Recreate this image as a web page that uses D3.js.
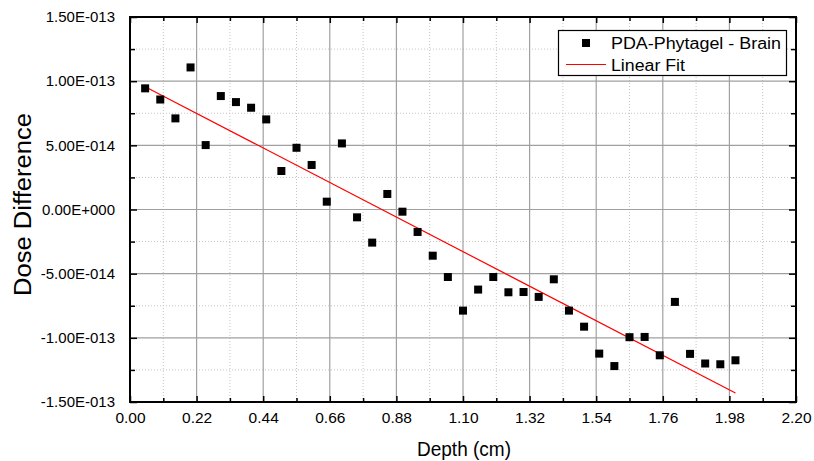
<!DOCTYPE html>
<html><head><meta charset="utf-8">
<script src="https://cdn.jsdelivr.net/npm/d3@7"></script>
<style>html,body{margin:0;padding:0;background:#fff;}svg{display:block;font-family:"Liberation Sans",Arial,sans-serif;}</style>
</head><body>
<svg id="c" width="814" height="461"></svg>
<script>
// ---- data ----
const depth = [0.05,0.10,0.15,0.20,0.25,0.30,0.35,0.40,0.45,0.50,0.55,0.60,0.65,0.70,0.75,0.80,0.85,0.90,0.95,1.00,
               1.05,1.10,1.15,1.20,1.25,1.30,1.35,1.40,1.45,1.50,1.55,1.60,1.65,1.70,1.75,1.80,1.85,1.90,1.95,2.00];
const doseDiff = [9.44e-14,8.57e-14,7.10e-14,11.07e-14,5.02e-14,8.84e-14,8.37e-14,7.93e-14,7.02e-14,3.00e-14,
                  4.81e-14,3.47e-14,0.61e-14,5.15e-14,-0.61e-14,-2.58e-14,1.21e-14,-0.17e-14,-1.75e-14,-3.60e-14,
                  -5.26e-14,-7.88e-14,-6.24e-14,-5.26e-14,-6.45e-14,-6.43e-14,-6.81e-14,-5.44e-14,-7.88e-14,-9.13e-14,
                  -11.23e-14,-12.20e-14,-9.95e-14,-9.93e-14,-11.36e-14,-7.20e-14,-11.25e-14,-12.00e-14,-12.06e-14,-11.75e-14];
const fitIntercept = 10.18e-14;
const fitSlope = -12.24e-14;
const fitRange = [0.05, 2.00];
const xTicks = [0.00,0.22,0.44,0.66,0.88,1.10,1.32,1.54,1.76,1.98,2.20];
const xMinor = [0.11,0.33,0.55,0.77,0.99,1.21,1.43,1.65,1.87,2.09];
const yTicks = [-1.5e-13,-1.0e-13,-5.0e-14,0,5.0e-14,1.0e-13,1.5e-13];
const yMinor = [-1.25e-13,-7.5e-14,-2.5e-14,2.5e-14,7.5e-14,1.25e-13];
const seriesName = "PDA-Phytagel - Brain";
const fitName = "Linear Fit";
const xTitle = "Depth (cm)";
const yTitle = "Dose Difference";

// ---- layout ----
const L=130, R=796, T=17, B=402;
const svg = d3.select("#c");
const x = d3.scaleLinear().domain([0,2.2]).range([L,R]);
const y = d3.scaleLinear().domain([-1.5e-13,1.5e-13]).range([B,T]);

function sci(v){
  if (Math.abs(v) < 1e-20) return "0.00E+000";
  let e = Math.floor(Math.log10(Math.abs(v)) + 1e-9);
  let m = v/Math.pow(10,e);
  const es = (e<0?"-":"+") + String(Math.abs(e)).padStart(3,"0");
  return m.toFixed(2) + "E" + es;
}

// grid minor
const g = svg.append("g");
g.selectAll(".xm").data(xMinor).join("line")
  .attr("x1",d=>x(d)).attr("x2",d=>x(d)).attr("y1",T).attr("y2",B)
  .attr("stroke","#c4c4c4").attr("stroke-dasharray","1,2").attr("stroke-width",1);
g.selectAll(".ym").data(yMinor).join("line")
  .attr("x1",L).attr("x2",R).attr("y1",d=>y(d)).attr("y2",d=>y(d))
  .attr("stroke","#c4c4c4").attr("stroke-dasharray","1,2").attr("stroke-width",1);
// grid major
g.selectAll(".xM").data(xTicks.slice(1,-1)).join("line")
  .attr("x1",d=>x(d)).attr("x2",d=>x(d)).attr("y1",T).attr("y2",B)
  .attr("stroke","#a0a0a0").attr("stroke-width",1.2);
g.selectAll(".yM").data(yTicks.slice(1,-1)).join("line")
  .attr("x1",L).attr("x2",R).attr("y1",d=>y(d)).attr("y2",d=>y(d))
  .attr("stroke","#a0a0a0").attr("stroke-width",1.2);

// fit line
svg.append("line")
  .attr("x1",x(fitRange[0])).attr("y1",y(fitIntercept+fitSlope*fitRange[0]))
  .attr("x2",x(fitRange[1])).attr("y2",y(fitIntercept+fitSlope*fitRange[1]))
  .attr("stroke","#ff0000").attr("stroke-width",1.2);

// points
const ms = 8;
svg.append("g").selectAll("rect").data(depth.map((d,i)=>[d,doseDiff[i]])).join("rect")
  .attr("x",d=>x(d[0])-ms/2).attr("y",d=>y(d[1])-ms/2).attr("width",ms).attr("height",ms)
  .attr("fill","#000");

// axes (inward ticks on all sides)
function axisBuild(gen, tr){
  const a = svg.append("g").attr("transform",tr).call(gen);
  a.select(".domain").remove();
  a.selectAll("line").attr("stroke","#000").attr("stroke-width",1.5);
  return a;
}
const xb = axisBuild(d3.axisBottom(x).tickValues(xTicks).tickSize(-6).tickPadding(10).tickFormat(d3.format(".2f")), `translate(0,${B})`);
xb.selectAll("text").attr("font-size","15.5px").attr("fill","#000").attr("font-family","Liberation Sans, Arial, sans-serif");
axisBuild(d3.axisBottom(x).tickValues(xMinor).tickSize(-4).tickFormat(""), `translate(0,${B})`);
axisBuild(d3.axisTop(x).tickValues(xTicks).tickSize(-6).tickFormat(""), `translate(0,${T})`);
axisBuild(d3.axisTop(x).tickValues(xMinor).tickSize(-4).tickFormat(""), `translate(0,${T})`);
const yl = axisBuild(d3.axisLeft(y).tickValues(yTicks).tickSize(-7).tickPadding(15).tickFormat(sci), `translate(${L},0)`);
yl.selectAll("text").attr("font-size","15px").attr("fill","#000").attr("font-family","Liberation Sans, Arial, sans-serif");
axisBuild(d3.axisLeft(y).tickValues(yMinor).tickSize(-5).tickFormat(""), `translate(${L},0)`);
axisBuild(d3.axisRight(y).tickValues(yTicks).tickSize(-7).tickFormat(""), `translate(${R},0)`);
axisBuild(d3.axisRight(y).tickValues(yMinor).tickSize(-5).tickFormat(""), `translate(${R},0)`);

// frame
svg.append("rect").attr("x",L).attr("y",T).attr("width",R-L).attr("height",B-T)
  .attr("fill","none").attr("stroke","#000").attr("stroke-width",2);

// titles
svg.append("text").attr("x",464).attr("y",456).attr("text-anchor","middle")
  .attr("font-size","20px").attr("textLength",94).attr("lengthAdjust","spacingAndGlyphs").text(xTitle);
svg.append("text").attr("transform",`translate(31,204.5) rotate(-90)`).attr("text-anchor","middle")
  .attr("font-size","23px").attr("textLength",183).attr("lengthAdjust","spacingAndGlyphs").text(yTitle);

// legend
const lg = svg.append("g");
lg.append("rect").attr("x",558.5).attr("y",30.5).attr("width",228).attr("height",45)
  .attr("fill","#fff").attr("stroke","#000").attr("stroke-width",1.2);
lg.append("rect").attr("x",586-ms/2).attr("y",43-ms/2).attr("width",ms).attr("height",ms).attr("fill","#000");
lg.append("line").attr("x1",566).attr("x2",606).attr("y1",64.5).attr("y2",64.5).attr("stroke","#ff0000").attr("stroke-width",1.2);
lg.append("text").attr("x",611).attr("y",48.5).attr("font-size","16px")
  .attr("textLength",170).attr("lengthAdjust","spacingAndGlyphs").text(seriesName);
lg.append("text").attr("x",611).attr("y",70.5).attr("font-size","16px")
  .attr("textLength",74).attr("lengthAdjust","spacingAndGlyphs").text(fitName);
</script>
</body></html>
